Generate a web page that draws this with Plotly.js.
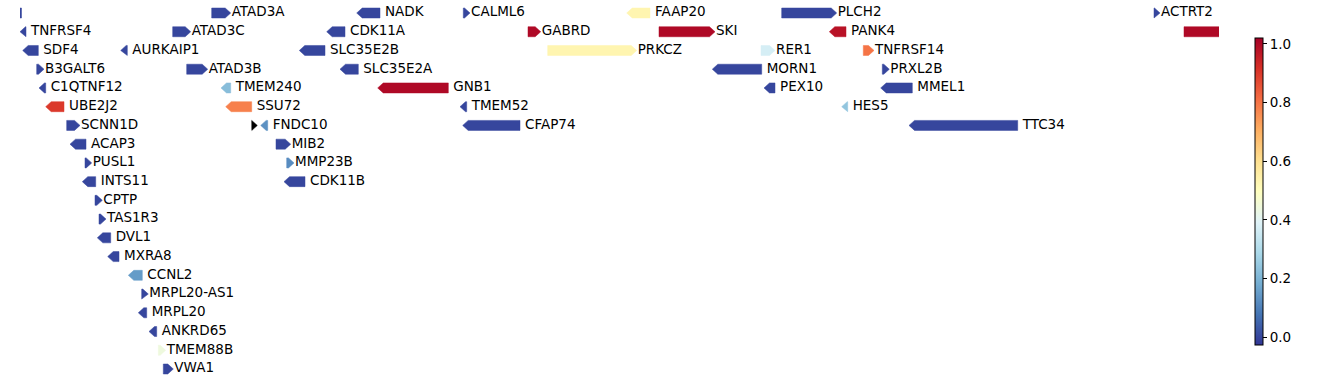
<!DOCTYPE html>
<html>
<head>
<meta charset="utf-8">
<script src="https://cdn.plot.ly/plotly-3.0.1.min.js"></script>
<style>html,body{margin:0;padding:0;background:#fff;}#chart{width:1338px;height:383px;}</style>
</head>
<body>
<div id="chart"></div>
<script>
// ---- data ----
const geneNames = [
  "", "ATAD3A", "NADK", "CALML6", "FAAP20", "PLCH2", "ACTRT2",
  "TNFRSF4", "ATAD3C", "CDK11A", "GABRD", "SKI", "PANK4", "",
  "SDF4", "AURKAIP1", "SLC35E2B", "PRKCZ", "RER1", "TNFRSF14",
  "B3GALT6", "ATAD3B", "SLC35E2A", "MORN1", "PRXL2B",
  "C1QTNF12", "TMEM240", "GNB1", "PEX10", "MMEL1",
  "UBE2J2", "SSU72", "TMEM52", "HES5",
  "SCNN1D", "", "FNDC10", "CFAP74", "TTC34",
  "ACAP3", "MIB2",
  "PUSL1", "MMP23B",
  "INTS11", "CDK11B",
  "CPTP", "TAS1R3", "DVL1", "MXRA8", "CCNL2", "MRPL20-AS1", "MRPL20", "ANKRD65", "TMEM88B", "VWA1"
];
const geneStart = [
  5, 211.7, 356.7, 463.3, 626.7, 781.7, 1154,
  20, 172.7, 326.7, 528, 659, 829.3, 1184,
  22.7, 120.7, 299.3, 547.7, 761, 863.3,
  36.7, 186.7, 340, 712.3, 882.3,
  39, 221, 377.7, 764, 880.7,
  45.7, 225.7, 460, 841.7,
  66.7, 251.7, 260.7, 462.7, 909,
  70, 276,
  85, 286.7,
  82.3, 284,
  95, 99, 97.3, 107.7, 128.3, 141.7, 138.3, 149, 158.3, 163.3
];
const geneEnd = [
  21.5, 230.7, 380, 470, 650, 836.7, 1160,
  26, 190.7, 345, 540.7, 715, 846, 1250,
  38.3, 127.3, 325, 636.7, 775, 874,
  44, 207.7, 358.3, 761.7, 889.3,
  45.7, 230.7, 448.3, 775, 912.3,
  64, 251.7, 466.7, 847.7,
  80, 257.3, 267.7, 520, 1017.7,
  86, 290.7,
  91.7, 294,
  95.7, 305,
  102.3, 106, 110.7, 119, 142.3, 148.3, 146.7, 156.7, 165.7, 173.3
];
const geneStrand = [
  -1, 1, -1, 1, -1, 1, 1,
  -1, 1, -1, 1, 1, -1, 1,
  -1, -1, -1, 1, 1, 1,
  1, 1, -1, -1, 1,
  -1, -1, -1, -1, -1,
  -1, -1, -1, -1,
  1, 1, -1, -1, -1,
  -1, 1,
  1, 1,
  -1, -1,
  1, 1, -1, -1, -1, 1, -1, -1, 1, 1
];
const geneRow = [
  0, 0, 0, 0, 0, 0, 0,
  1, 1, 1, 1, 1, 1, 1,
  2, 2, 2, 2, 2, 2,
  3, 3, 3, 3, 3,
  4, 4, 4, 4, 4,
  5, 5, 5, 5,
  6, 6, 6, 6, 6,
  7, 7,
  8, 8,
  9, 9,
  10, 11, 12, 13, 14, 15, 16, 17, 18, 19
];
const geneValue = [
  0, 0, 0, 0, 0.53, 0, 0,
  0, 0, 0, 1, 1, 0.98, 1,
  0, 0, 0, 0.53, 0.37, 0.8,
  0, 0, 0, 0, 0,
  0, 0.22, 1, 0, 0,
  0.9, 0.78, 0, 0.24,
  0, null, 0.13, 0, 0,
  0, 0,
  0, 0.12,
  0, 0,
  0, 0, 0, 0, 0.15, 0, 0, 0, 0.44, 0
];
const colorbarTicks = [0.0, 0.2, 0.4, 0.6, 0.8, 1.0];

// ---- styling ----
const rdylbu_r = ["#313695","#4575b4","#74add1","#abd9e9","#e0f3f8","#ffffbf","#fee090","#fdae61","#f46d43","#d73027","#a50026"];
const colorscale = rdylbu_r.map((c, i) => [i / (rdylbu_r.length - 1), c]);
const CMIN = -0.027, CMAX = 1.02;

function hex2rgb(h){ return [parseInt(h.substr(1,2),16), parseInt(h.substr(3,2),16), parseInt(h.substr(5,2),16)]; }
function colorFor(v){
  if (v === null || v === undefined || isNaN(v)) return "#000000";
  let t = (v - CMIN) / (CMAX - CMIN);
  t = Math.max(0, Math.min(1, t));
  const n = rdylbu_r.length - 1;
  const p = t * n, i = Math.min(Math.floor(p), n - 1), f = p - i;
  const a = hex2rgb(rdylbu_r[i]), b = hex2rgb(rdylbu_r[i + 1]);
  const c = a.map((x, k) => Math.round(x + (b[k] - x) * f));
  return "rgb(" + c.join(",") + ")";
}

const HALF = 0.267;   // half body height in row units
const HEAD = 5.5;     // arrow head length in x units

const traces = [];
for (let g = 0; g < geneNames.length; g++) {
  const s = geneStart[g], e = geneEnd[g], y = geneRow[g];
  const hl = Math.min(HEAD, e - s);
  let xs, ys;
  if (geneStrand[g] > 0) {
    xs = [s, e - hl, e, e - hl, s, s];
    ys = [y - HALF, y - HALF, y, y + HALF, y + HALF, y - HALF];
  } else {
    xs = [e, s + hl, s, s + hl, e, e];
    ys = [y - HALF, y - HALF, y, y + HALF, y + HALF, y - HALF];
  }
  const col = colorFor(geneValue[g]);
  traces.push({
    type: "scatter", mode: "lines", x: xs, y: ys, fill: "toself",
    fillcolor: col, line: {color: col, width: 0.5}, hoverinfo: "skip", showlegend: false
  });
}

// labels
traces.push({
  type: "scatter", mode: "text",
  x: geneEnd.map((e, g) => e + (geneStrand[g] > 0 ? 1 : 5)),
  y: geneRow,
  text: geneNames,
  textposition: "middle right",
  textfont: {family: "DejaVu Sans", size: 13.5, color: "#000"},
  hoverinfo: "skip", showlegend: false, cliponaxis: true
});

// colorbar carrier
traces.push({
  type: "scatter", mode: "markers", x: [-1000, -1000], y: [0, 0],
  marker: {
    color: [CMIN, CMAX], cmin: CMIN, cmax: CMAX, colorscale: colorscale, size: 1, opacity: 0,
    showscale: true,
    colorbar: {
      x: 1255 / 1338, xanchor: "left", xpad: 0, ypad: 0,
      y: 1 - 191.5 / 383, yanchor: "middle",
      len: 307, lenmode: "pixels", thickness: 8,
      outlinewidth: 1, outlinecolor: "#000",
      tickvals: colorbarTicks, ticktext: colorbarTicks.map(v => v.toFixed(1)),
      ticks: "outside", ticklen: 4, tickwidth: 1, tickcolor: "#000",
      tickfont: {family: "DejaVu Sans", size: 13.5, color: "#000"}
    }
  },
  hoverinfo: "skip", showlegend: false
});

const rowPx0 = 13, rowStep = 18.737, H = 383;
const layout = {
  width: 1338, height: 383,
  margin: {l: 0, r: 0, t: 0, b: 0},
  paper_bgcolor: "#fff", plot_bgcolor: "#fff",
  showlegend: false, hovermode: false,
  xaxis: {domain: [20 / 1338, 1219 / 1338], range: [20, 1219], visible: false, fixedrange: true},
  yaxis: {range: [(H - rowPx0) / rowStep, -rowPx0 / rowStep], visible: false, fixedrange: true}
};

Plotly.newPlot("chart", traces, layout, {displayModeBar: false, staticPlot: true});
</script>
</body>
</html>
